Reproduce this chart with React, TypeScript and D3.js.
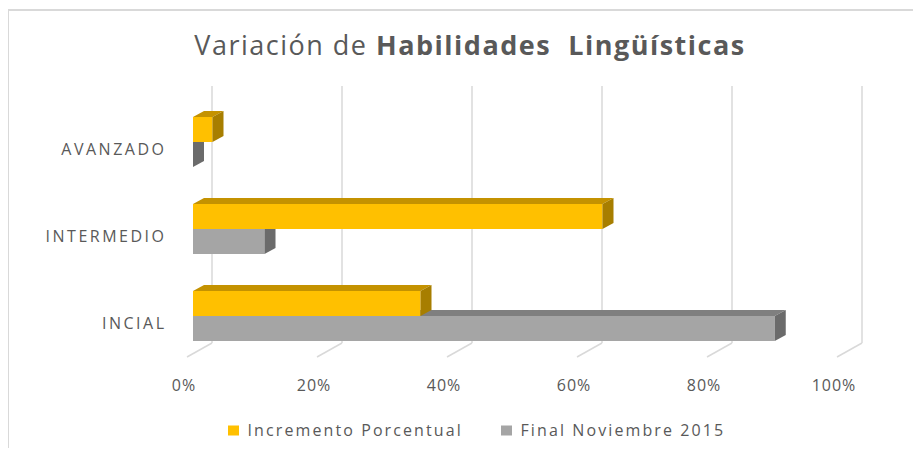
import React, { useRef, useEffect } from "react";
import * as d3 from "d3";

const categories = ["AVANZADO", "INTERMEDIO", "INCIAL"];
const seriesNames = ["Incremento Porcentual", "Final Noviembre 2015"];
const incremento = [0.03, 0.63, 0.35];
const finalNov = [0.0, 0.11, 0.895];
const ticks = [0, 0.2, 0.4, 0.6, 0.8, 1];

const faces = [
    { front: "#FFC000", top: "#C49200", side: "#A77E00" },
    { front: "#A5A5A5", top: "#7F7F7F", side: "#6B6B6B" },
];

const App: React.FC = () => {
    const ref = useRef<SVGSVGElement>(null);

    useEffect(() => {
        const width = 921,
            height = 452;
        const svg = d3.select(ref.current).attr("width", width).attr("height", height);
        svg.selectAll("*").remove();

        const font = "'Open Sans', sans-serif";
        const txt = "#595959";
        const dx = 11, // bar depth
            dy = -6;
        const wallDx = 19; // back wall offset
        const wallTop = 86,
            wallBottom = 343;

        // chart frame (runs off the bottom/right of the picture)
        svg.append("rect")
            .attr("x", 8)
            .attr("y", 10)
            .attr("width", 930)
            .attr("height", 460)
            .attr("fill", "none")
            .attr("stroke", "#d9d9d9")
            .attr("stroke-width", 2);

        const x = d3.scaleLinear().domain([0, 1]).range([193, 843]);
        const y = d3.scaleBand<string>().domain(categories).range([98.5, 359.5]);
        const barH = 25;

        // gridlines on back wall + floor diagonals
        const grid = svg.append("g");
        ticks.forEach((t) => {
            grid.append("line")
                .attr("x1", x(t) + wallDx)
                .attr("x2", x(t) + wallDx)
                .attr("y1", wallTop)
                .attr("y2", wallBottom)
                .attr("stroke", "#d9d9d9")
                .attr("stroke-width", 1.5);
            grid.append("line")
                .attr("x1", x(t) + wallDx)
                .attr("y1", wallBottom)
                .attr("x2", x(t) - 6)
                .attr("y2", wallBottom + 14)
                .attr("stroke", "#d9d9d9")
                .attr("stroke-width", 1.5);
        });

        // tick labels
        svg.append("g")
            .selectAll("text")
            .data(ticks)
            .enter()
            .append("text")
            .attr("x", (d) => x(d) - 9)
            .attr("y", 391)
            .attr("text-anchor", "middle")
            .style("font-family", font)
            .style("font-size", "16px")
            .style("letter-spacing", "1px")
            .style("fill", txt)
            .text((d) => d3.format(".0%")(d));

        // category labels
        svg.append("g")
            .selectAll("text")
            .data(categories)
            .enter()
            .append("text")
            .attr("x", 166.5)
            .attr("y", (d) => (y(d) as number) + y.step() / 2 + 13)
            .attr("text-anchor", "end")
            .style("font-family", font)
            .style("font-size", "16px")
            .style("letter-spacing", "2.5px")
            .style("fill", txt)
            .text((d) => d);

        const data = [incremento, finalNov];
        const bars = svg.append("g");
        // draw gray first so the yellow front covers its top face
        [1, 0].forEach((s) => {
            categories.forEach((c, i) => {
                const v = data[s][i];
                const center = (y(c) as number) + y.step() / 2;
                const y0 = s === 0 ? center - barH : center;
                const x0 = x(0),
                    x1 = x(v);
                const f = faces[s];
                // top face
                bars.append("path")
                    .attr("d", `M${x0},${y0}L${x0 + dx},${y0 + dy}L${x1 + dx},${y0 + dy}L${x1},${y0}Z`)
                    .attr("fill", f.top);
                // front face
                bars.append("rect")
                    .attr("x", x0)
                    .attr("y", y0)
                    .attr("width", x1 - x0)
                    .attr("height", barH)
                    .attr("fill", f.front);
                // right face
                bars.append("path")
                    .attr("d", `M${x1},${y0}L${x1 + dx},${y0 + dy}L${x1 + dx},${y0 + dy + barH}L${x1},${y0 + barH}Z`)
                    .attr("fill", f.side);
            });
        });

        // title
        const title = svg.append("text")
            .attr("x", 470)
            .attr("y", 55)
            .attr("text-anchor", "middle")
            .style("font-family", font)
            .style("font-size", "27px")
            .style("letter-spacing", "1.5px")
            .style("fill", txt);
        title.append("tspan").text("Variación de ");
        title.append("tspan").style("font-weight", "bold").attr("xml:space", "preserve").text("Habilidades  Lingüísticas");

        // legend
        const legend = svg.append("g");
        const lx = [228, 501];
        seriesNames.forEach((n, i) => {
            legend.append("rect")
                .attr("x", lx[i])
                .attr("y", 425.5)
                .attr("width", 11)
                .attr("height", 10)
                .attr("fill", faces[i].front);
            legend.append("text")
                .attr("x", lx[i] + 19.5)
                .attr("y", 436)
                .style("font-family", font)
                .style("font-size", "16px")
                .style("letter-spacing", "2.1px")
                .style("fill", txt)
                .text(n);
        });
    }, []);

    return (
        <div style={{ margin: -8 }}>
            <svg ref={ref}></svg>
        </div>
    );
};

export default App;
